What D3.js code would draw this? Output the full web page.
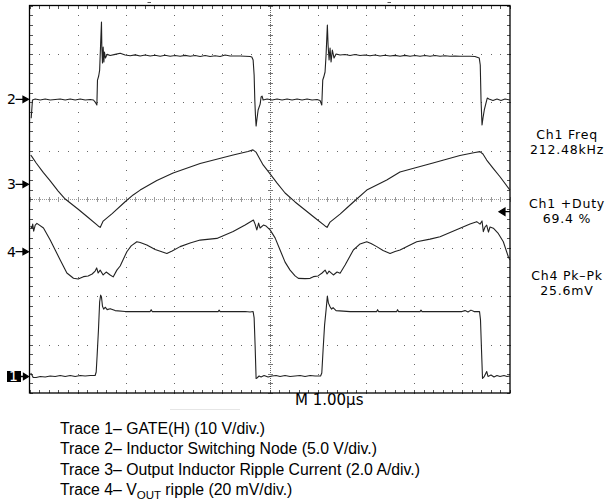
<!DOCTYPE html>
<html><head><meta charset="utf-8">
<script src="https://cdn.jsdelivr.net/npm/d3@7"></script>
<style>body{margin:0;background:#fff;} svg{display:block;}</style>
</head><body>
<svg id="c" width="612" height="500"></svg>
<script>
// ---------------- DATA (time in µs, M 1.00µs/div) ----------------
// Trace 1: GATE(H), volts
const ch1 = [
 [0.025,0.72],[0.050,0.31],[0.077,-0.21],[0.139,-0.21],[0.223,0.0],[0.327,-0.10],[0.431,0.10],[0.535,0.0],
 [0.639,0.21],[0.743,0.0],[0.847,0.21],[0.951,0.0],[1.055,0.21],[1.159,0.10],[1.263,0.21],[1.366,0.21],
 [1.388,0.93],[1.408,4.44],[1.435,9.6],[1.460,15.4],[1.481,16.8],[1.498,16.4],[1.519,14.5],[1.544,13.9],
 [1.575,14.3],[1.616,13.8],[1.679,14.0],[1.783,13.6],[1.991,13.4],[2.511,13.4],[2.532,13.8],[2.553,13.4],
 [3.551,13.4],[3.926,13.4],[3.947,13.7],[3.967,13.4],[4.487,13.4],[4.591,13.3],[4.654,13.4],[4.675,12.1],
 [4.695,6.5],[4.716,-0.41],[4.737,-0.31],[4.778,0.10],[4.82,-0.10],[4.882,0.21],[4.965,-0.10],[5.049,0.10],
 [5.132,0.21],[5.215,0.0],[5.319,0.21],[5.423,0.0],[5.527,0.10],[5.631,0.21],[5.735,0.0],[5.84,0.21],
 [5.944,0.10],[6.058,0.10],[6.083,0.72],[6.110,5.47],[6.141,10.6],[6.172,13.7],[6.199,16.6],[6.220,15.2],
 [6.255,14.4],[6.287,13.9],[6.318,14.2],[6.380,13.6],[6.672,13.4],[7.227,13.4],[7.244,13.8],[7.265,13.4],
 [7.643,13.4],[7.660,13.8],[7.68,13.4],[8.128,13.4],[8.148,13.7],[8.169,13.4],[9.001,13.4],[9.064,13.6],
 [9.126,13.3],[9.188,13.7],[9.251,13.4],[9.366,13.4],[9.386,11.7],[9.407,5.5],[9.428,-0.41],[9.459,-0.10],
 [9.515,1.03],[9.542,0.0],[9.605,0.31],[9.667,-0.10],[9.729,0.21],[9.792,0.0],[9.875,0.21],[9.938,0.0],[10.0,0.10]
];
// Trace 2: inductor switching node, volts
const ch2 = [
 [0.035,-1.96],[0.062,-0.07],[0.119,0.03],[0.223,-0.07],[0.327,0.03],[0.431,-0.07],[0.535,-0.02],[0.639,0.03],
 [0.743,-0.07],[0.847,0.03],[0.951,-0.07],[1.055,0.03],[1.159,-0.07],[1.263,-0.02],[1.331,-0.07],[1.367,-0.28],
 [1.402,-0.59],[1.415,1.99],[1.44,2.41],[1.460,3.02],[1.477,5.30],[1.498,7.98],[1.506,5.30],[1.519,3.75],
 [1.533,5.40],[1.548,3.85],[1.560,4.88],[1.581,4.26],[1.616,4.64],[1.679,4.52],[1.783,4.64],[1.887,4.75],
 [1.991,4.57],[2.095,4.50],[2.199,4.59],[2.303,4.47],[2.407,4.57],[2.511,4.47],[2.615,4.55],[2.719,4.45],
 [2.823,4.55],[2.927,4.45],[3.031,4.52],[3.135,4.44],[3.239,4.54],[3.343,4.44],[3.447,4.52],[3.551,4.42],
 [3.655,4.52],[3.759,4.42],[3.863,4.49],[3.967,4.42],[4.071,4.57],[4.175,4.47],[4.279,4.47],[4.383,4.47],
 [4.487,4.45],[4.591,4.42],[4.627,4.37],[4.654,4.06],[4.675,2.51],[4.689,-0.07],[4.702,-1.62],[4.716,-2.76],
 [4.731,-2.14],[4.758,-1.10],[4.800,-0.49],[4.820,0.24],[4.841,0.34],[4.862,-0.07],[4.945,0.03],[5.049,-0.07],
 [5.153,0.03],[5.257,-0.07],[5.361,0.03],[5.465,-0.07],[5.569,0.03],[5.673,-0.07],[5.777,0.03],[5.881,-0.07],
 [5.985,-0.02],[6.047,-0.12],[6.083,-0.59],[6.103,1.99],[6.124,2.30],[6.151,2.82],[6.172,4.57],[6.199,7.67],
 [6.214,5.60],[6.235,4.06],[6.255,5.30],[6.276,3.85],[6.303,5.09],[6.338,4.26],[6.380,4.68],[6.463,4.57],
 [6.567,4.62],[6.671,4.52],[6.775,4.62],[6.879,4.52],[6.983,4.57],[7.087,4.49],[7.191,4.57],[7.295,4.47],
 [7.399,4.55],[7.503,4.47],[7.607,4.54],[7.711,4.45],[7.815,4.54],[7.919,4.45],[8.023,4.52],[8.127,4.44],
 [8.231,4.52],[8.335,4.44],[8.439,4.52],[8.543,4.44],[8.647,4.49],[8.751,4.44],[8.855,4.47],[8.959,4.44],
 [9.063,4.44],[9.167,4.44],[9.271,4.42],[9.36,4.26],[9.381,3.54],[9.397,-0.07],[9.418,-2.65],[9.438,-1.93],
 [9.465,-1.10],[9.500,-0.38],[9.527,0.13],[9.562,0.03],[9.646,-0.12],[9.729,0.03],[9.813,-0.12],[9.896,0.03],[10.0,-0.07]
];
// Trace 3: output inductor ripple current, amps
const ch3 = [
 [0.025,1.21],[0.050,1.14],[0.139,0.88],[0.285,0.49],[0.431,0.14],[0.597,-0.28],[0.743,-0.61],[1.007,-1.02],
 [1.221,-1.37],[1.429,-1.72],[1.471,-1.78],[1.533,-1.52],[1.720,-1.21],[1.990,-0.72],[2.157,-0.44],[2.303,-0.24],
 [2.650,0.16],[2.989,0.47],[3.551,0.86],[4.238,1.21],[4.547,1.35],[4.651,1.42],[4.713,1.33],[4.862,0.80],
 [5.007,0.43],[5.153,0.05],[5.319,-0.36],[5.527,-0.73],[5.735,-1.06],[5.943,-1.39],[6.151,-1.72],[6.193,-1.78],
 [6.255,-1.56],[6.463,-1.23],[6.603,-0.98],[6.776,-0.67],[7.019,-0.24],[7.435,0.18],[7.710,0.51],[8.397,0.88],
 [8.958,1.19],[9.270,1.31],[9.375,1.35],[9.437,1.25],[9.515,1.00],[9.646,0.67],[9.792,0.31],[10.0,-0.24]
];
// Trace 4: VOUT ripple, millivolts
const ch4 = [
 [0.025,10.6],[0.050,9.7],[0.067,11.4],[0.087,8.5],[0.119,11.0],[0.154,11.7],[0.291,9.8],[0.431,4.8],
 [0.535,0.7],[0.639,-3.4],[0.778,-8.8],[0.915,-10.98],[1.013,-11.3],[1.123,-10.3],[1.221,-10.0],[1.304,-9.2],
 [1.366,-8.0],[1.398,-6.7],[1.429,-8.8],[1.471,-7.6],[1.533,-9.6],[1.596,-8.4],[1.679,-9.6],[1.741,-10.4],
 [1.818,-7.6],[1.887,-5.9],[2.026,0.0],[2.116,2.4],[2.234,4.1],[2.303,3.8],[2.442,2.8],[2.615,0.9],
 [2.858,-0.7],[2.969,0.3],[3.135,2.1],[3.343,3.6],[3.551,4.8],[3.899,5.5],[4.238,8.3],[4.487,11.0],
 [4.660,13.1],[4.695,11.4],[4.731,9.0],[4.768,11.8],[4.799,9.8],[4.868,11.0],[4.924,10.6],[5.007,9.0],
 [5.111,5.7],[5.215,0.7],[5.319,-4.3],[5.423,-7.6],[5.527,-10.0],[5.596,-11.0],[5.735,-11.1],[5.84,-11.0],
 [5.908,-10.3],[6.006,-10.0],[6.089,-8.8],[6.152,-7.6],[6.193,-9.2],[6.235,-8.0],[6.324,-9.6],[6.401,-8.4],
 [6.464,-8.9],[6.568,-5.5],[6.740,0.7],[6.880,3.2],[7.019,4.1],[7.108,3.4],[7.227,2.1],[7.358,0.5],
 [7.504,-0.7],[7.608,0.1],[7.712,0.7],[7.878,2.4],[8.059,4.1],[8.336,5.2],[8.544,6.2],[8.752,7.9],
 [8.960,9.7],[9.168,11.4],[9.307,12.4],[9.376,11.4],[9.418,12.7],[9.445,8.3],[9.480,10.2],[9.515,11.0],
 [9.552,8.1],[9.584,10.2],[9.653,9.7],[9.750,7.7],[9.861,4.1],[9.965,-2.1],[10.0,-3.4]
];
const channelNames = ['1','2','3','4'];
const voltsPerDiv = [10, 5, 2, 20];
const readoutLabels = ['Ch1 Freq','212.48kHz','Ch1 +Duty','69.4 %','Ch4 Pk–Pk','25.6mV'];
const timebaseLabel = 'M 1.00µs';
const captionLines = [
 ['Trace 1– GATE(H) (10 V/div.)'],
 ['Trace 2– Inductor Switching Node (5.0 V/div.)'],
 ['Trace 3– Output Inductor Ripple Current (2.0 A/div.)'],
 ['Trace 4– V','OUT',' ripple (20 mV/div.)']
];

// ---------------- DRAWING ----------------
const svg = d3.select('#c');
const x = d3.scaleLinear().domain([0,10]).range([29.5,510]);
const y = d3.scaleLinear().domain([-4,4]).range([393,5.5]);
const offsets = [-3.659, 2.063, 0.309, -1.083]; // channel ground positions (div)
const traces = [ch1, ch2, ch3, ch4];

// grid dots
const gGrid = svg.append('g').attr('shape-rendering','crispEdges');
const minorY = d3.range(0,41).map(i=>-4+i*0.2);
const minorX = d3.range(0,51).map(i=>i*0.2);
const vLines = d3.range(1,10).filter(i=>i!==5);
const hLines = d3.range(-3,4).filter(i=>i!==0);
gGrid.selectAll('.vd').data(d3.cross(vLines, minorY)).join('rect')
 .attr('x',d=>Math.round(x(d[0]))-0.5).attr('y',d=>Math.round(y(d[1]))-0.5)
 .attr('width',1).attr('height',1).attr('fill','#666');
gGrid.selectAll('.hd').data(d3.cross(minorX, hLines)).join('rect')
 .attr('x',d=>Math.round(x(d[0]))-0.5).attr('y',d=>Math.round(y(d[1]))-0.5)
 .attr('width',1).attr('height',1).attr('fill','#666');

// center cross
gGrid.append('line').attr('x1',x(0)).attr('x2',x(10)).attr('y1',Math.round(y(0))+0.5).attr('y2',Math.round(y(0))+0.5)
 .attr('stroke','#999').attr('stroke-dasharray','1,1');
gGrid.append('line').attr('y1',y(4)).attr('y2',y(-4)).attr('x1',Math.round(x(5))+0.5).attr('x2',Math.round(x(5))+0.5)
 .attr('stroke','#666').attr('stroke-dasharray','1,1');
gGrid.selectAll('.ct').data(minorX).join('line')
 .attr('x1',d=>Math.round(x(d))+0.5).attr('x2',d=>Math.round(x(d))+0.5)
 .attr('y1',Math.round(y(0))-2).attr('y2',Math.round(y(0))+3).attr('stroke','#999');
gGrid.selectAll('.cv').data(minorY).join('line')
 .attr('y1',d=>Math.round(y(d))+0.5).attr('y2',d=>Math.round(y(d))+0.5)
 .attr('x1',Math.round(x(5))-2).attr('x2',Math.round(x(5))+3).attr('stroke','#777');

// border ticks
gGrid.selectAll('.bt').data(minorX).join('line')
 .attr('x1',d=>Math.round(x(d))+0.5).attr('x2',d=>Math.round(x(d))+0.5)
 .attr('y1',y(-4)).attr('y2',y(-4)-3).attr('stroke','#555');
gGrid.selectAll('.tt').data(minorX).join('line')
 .attr('x1',d=>Math.round(x(d))+0.5).attr('x2',d=>Math.round(x(d))+0.5)
 .attr('y1',y(4)).attr('y2',y(4)+3).attr('stroke','#555');
gGrid.selectAll('.lt').data(minorY).join('line')
 .attr('y1',d=>Math.round(y(d))+0.5).attr('y2',d=>Math.round(y(d))+0.5)
 .attr('x1',x(0)).attr('x2',x(0)+3).attr('stroke','#555');
gGrid.selectAll('.rt').data(minorY).join('line')
 .attr('y1',d=>Math.round(y(d))+0.5).attr('y2',d=>Math.round(y(d))+0.5)
 .attr('x1',x(10)).attr('x2',x(10)-3).attr('stroke','#555');

// frame
svg.append('rect').attr('x',x(0)).attr('y',y(4)).attr('width',x(10)-x(0)).attr('height',y(-4)-y(4))
 .attr('fill','none').attr('stroke','#000').attr('stroke-width',1.3);

// traces
traces.forEach((data,i)=>{
  const line = d3.line().x(d=>x(d[0])).y(d=>y(offsets[i] + d[1]/voltsPerDiv[i]));
  svg.append('path').datum(data).attr('d',line).attr('fill','none')
   .attr('stroke','#222').attr('stroke-width',1.1).attr('stroke-linejoin','round');
});

// channel markers
const arrowPath = (yy)=>`M15.5,${yy}L24,${yy}M28.5,${yy}L23,${yy-3}L23,${yy+3}Z`;
channelNames.forEach((n,i)=>{
  const yy = y(offsets[i]);
  if(n==='1'){
    svg.append('rect').attr('x',7).attr('y',yy-5.5).attr('width',14).attr('height',11).attr('fill','#000');
    svg.append('text').attr('x',13.5).attr('y',yy+5).attr('text-anchor','middle')
      .attr('font-family','DejaVu Sans').attr('font-size',14).attr('fill','#fff').text(n);
    svg.append('path').attr('d',`M20.5,${yy}L24,${yy}M28.5,${yy}L23.5,${yy-3}L23.5,${yy+3}Z`)
      .attr('stroke','#000').attr('stroke-width',1.3).attr('fill','#000');
  } else {
    svg.append('text').attr('x',11.5).attr('y',yy+5).attr('text-anchor','middle')
      .attr('font-family','DejaVu Sans').attr('font-size',14).attr('fill','#000').text(n);
    svg.append('path').attr('d',arrowPath(yy)).attr('stroke','#000').attr('stroke-width',1.3).attr('fill','#000');
  }
});

// trigger level arrow (right edge)
svg.append('path').attr('d','M499,211.7L505,208L505,215.4Z M505,211.7L510,211.7')
 .attr('fill','#000').attr('stroke','#000').attr('stroke-width',1.2);
// top position marks
svg.append('line').attr('x1',147.5).attr('x2',151).attr('y1',2.5).attr('y2',2.5).attr('stroke','#555');
svg.append('line').attr('x1',387.5).attr('x2',391).attr('y1',2.5).attr('y2',2.5).attr('stroke','#555');

// timebase label
svg.append('text').attr('x',295).attr('y',405).attr('font-family','DejaVu Sans').attr('font-size',15)
 .attr('fill','#000').text(timebaseLabel);
svg.append('line').attr('x1',170).attr('x2',240).attr('y1',409.5).attr('y2',409.5).attr('stroke','#e6e6e6');

// readouts
const readY = [139,154,208,223,280,295];
readoutLabels.forEach((t,i)=>{
  svg.append('text').attr('x',567).attr('y',readY[i]).attr('text-anchor','middle')
   .attr('font-family','DejaVu Sans').attr('font-size',12.5).attr('letter-spacing',0.8)
   .attr('fill','#000').text(t);
});

// caption
const capY = [433.5,454,474.5,495];
captionLines.forEach((parts,i)=>{
  const t = svg.append('text').attr('x',60).attr('y',capY[i]).attr('font-family','Liberation Sans, Arial, sans-serif')
   .attr('font-size',15.8).attr('fill','#000');
  if(parts.length===1){ t.text(parts[0]); }
  else {
    t.append('tspan').text(parts[0]);
    t.append('tspan').attr('font-size',11.5).attr('dy',4).text(parts[1]);
    t.append('tspan').attr('dy',-4).text(parts[2]);
  }
});
</script>
</body></html>
